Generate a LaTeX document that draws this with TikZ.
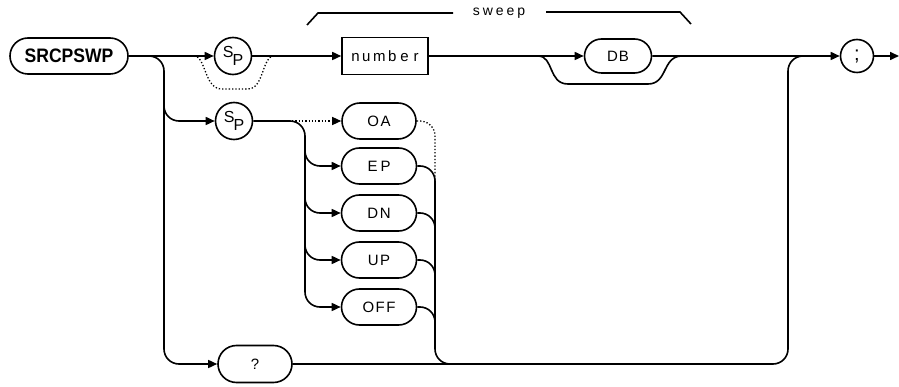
\documentclass[tikz,border=0pt]{standalone}
\usepackage{fontspec}
\setmainfont{Liberation Sans}
\usetikzlibrary{arrows.meta,shapes.misc}
\begin{document}
\begin{tikzpicture}[x=1pt,y=-1pt, line width=1.6pt,
  term/.style={draw, rounded rectangle, line width=1.6pt, inner sep=0pt, minimum height=36pt, font=\fontsize{15}{15}\selectfont},
  circ/.style={draw, circle, line width=1.6pt, inner sep=0pt, font=\fontsize{16}{16}\selectfont},
  boxnode/.style={draw, rectangle, line width=1.6pt, inner sep=0pt, font=\fontsize{15}{15}\selectfont},
  lbl/.style={inner sep=0pt, font=\fontsize{14}{14}\selectfont},
  arr/.style={-{Triangle[length=9pt,width=8pt]}},
  dots/.style={dotted, line width=1.3pt},
  rc/.style={rounded corners=15pt}]
\useasboundingbox (0,0) rectangle (899,387);

% top row
\node[term, minimum width=118pt] (srcp) at (69,56) {\scalebox{0.9}[1]{\bfseries\fontsize{19.5}{19.5}\selectfont SRCPSWP}};
\node[circ, minimum size=37pt] (sp1) at (233,56) {\raisebox{4pt}{S}\kern-1pt\raisebox{-4pt}{P}};
\node[boxnode, minimum width=86pt, minimum height=37pt] (num) at (385,56) {n\kern2.5pt u\kern2.5pt m\kern2.5pt b\kern4pt e\kern5pt r};
\node[term, minimum width=67pt, minimum height=34pt] (db) at (618,56) {D\kern1pt B};
\node[circ, minimum size=33pt] (semi) at (857,56) {\fontsize{20}{20}\selectfont ;};
\coordinate (out) at (899,56);

% second row
\node[circ, minimum size=37pt] (sp2) at (234,121) {\raisebox{4pt}{S}\kern-1pt\raisebox{-4pt}{P}};
\node[term, minimum width=74pt] (oa) at (379,121) {O\kern1.5pt A};
\node[term, minimum width=75pt] (ep) at (379,166) {E\kern3pt P};
\node[term, minimum width=75pt] (dn) at (379,213) {D\kern1.5pt N};
\node[term, minimum width=75pt] (up) at (379,260) {U\kern1.5pt P};
\node[term, minimum width=75pt] (off) at (379,307) {O\kern1.5pt F\kern1.5pt F};
\node[term, minimum width=74pt, minimum height=37pt] (q) at (255,364) {?};

% sweep bracket
\node[lbl] (sweep) at (499,13) {s\kern3pt w\kern3pt e\kern3pt e\kern3pt p};
\draw (307,25) -- (318,13) -- (453,13);
\draw (546,12) -- (680,12) -- (691,24);

% main line
\draw[arr] (srcp) -- (sp1);
\draw[arr] (sp1) -- (num);
\draw[arr] (num) -- (db);
\draw[arr] (db) -- (semi);
\draw[arr] (semi) -- (out);

% optional SP bypass
\draw[dots] (194,56) .. controls (206,56) and (204,89) .. (222,89) -- (248,89) .. controls (264,89) and (262,56) .. (274,56);

% DB bypass
\draw (538,56) .. controls (554,56) and (548,84) .. (568,84) -- (648,84) .. controls (668,84) and (662,56) .. (682,56);

% left branch
\draw[rc, arr] (srcp.east) -- (164,56) -- (164,364) -- (q.west);
\draw[rc, arr] (164,95) -- (164,121) -- (sp2.west);

% option fan
\draw[rc, arr] (sp2.east) -- (305,121) -- (305,307) -- (off.west);
\draw[dots, arr] (292,121) -- (oa.west);
\draw[rc, arr] (305,140) -- (305,166) -- (ep.west);
\draw[rc, arr] (305,187) -- (305,213) -- (dn.west);
\draw[rc, arr] (305,234) -- (305,260) -- (up.west);

% option exits
\draw[dots, rc] (oa.east) -- (435,121) -- (435,180);
\draw[rc] (ep.east) -- (435,166) -- (435,364) -- (460,364);
\draw[rc] (dn.east) -- (435,213) -- (435,240);
\draw[rc] (up.east) -- (435,260) -- (435,287);
\draw[rc] (off.east) -- (435,307) -- (435,334);

% return line
\draw[rc] (q.east) -- (788,364) -- (788,56) -- (815,56);
\end{tikzpicture}
\end{document}
